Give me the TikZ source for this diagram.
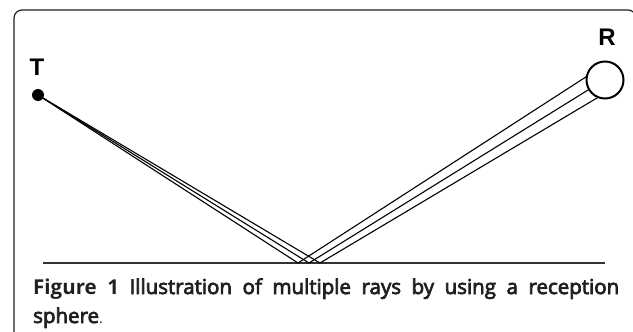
\documentclass[tikz,border=0pt]{standalone}
\usepackage{fontspec}
\setmainfont{Liberation Sans}
\newfontfamily\capfont{Open Sans}
\newfontfamily\capmed{Open Sans}[FakeBold=3.5]
\newfontfamily\lblfont{Liberation Sans}
\usetikzlibrary{calc,intersections}
\definecolor{ink}{HTML}{231F20}
\tikzset{
  ray/.style={draw=black, line width=1.1pt},
  lbl/.style={inner sep=0pt, font=\lblfont\fontsize{24}{24}\selectfont\bfseries},
  captxt/.style={inner sep=0pt, anchor=base west, text=ink, font=\capfont\fontsize{20.5}{24}\selectfont},
}
\begin{document}
\begin{tikzpicture}[x=1pt,y=-1pt]
\clip (0,0) rectangle (633,332);
\useasboundingbox (0,0) rectangle (633,332);
% frame
\draw[line width=1.2pt, draw=ink] (14,340) -- (14,18) arc[start angle=180,end angle=90,radius=8pt] -- (628,10) arc[start angle=90,end angle=0,radius=8pt] -- (636,340);
% ground
\coordinate (g1) at (43,263);
\coordinate (g2) at (605,263);
\draw[line width=1.5pt, draw=black!80] (g1) -- (g2);
% transmitter
\coordinate (T) at (38,95);
\coordinate (Tp) at (38,431);
\fill (T) circle[radius=6pt];
\node[lbl] (tl) at (37,67) {T};
% receiver
\coordinate (C) at (605,80);
\path[name path=circ] (C) circle[radius=18.5pt];
\node[lbl] (rl) at (607,37) {R};
% hit points
\coordinate (h1) at (298,263);
\coordinate (h2) at (309,263);
\coordinate (h3) at (320,263);
\path[name path=rayA] (Tp) -- ($(Tp)!2.4!(h1)$);
\path[name path=rayB] (Tp) -- ($(Tp)!2.4!(h2)$);
\path[name path=rayC] (Tp) -- ($(Tp)!2.4!(h3)$);
\path[name intersections={of=rayA and circ, sort by=rayA, by={e1}}];
\path[name intersections={of=rayB and circ, sort by=rayB, by={e2}}];
\path[name intersections={of=rayC and circ, sort by=rayC, by={e3}}];
\draw[ray] (T) -- (h1) -- (e1);
\draw[ray] (T) -- (h2) -- (e2);
\draw[ray] (T) -- (h3) -- (e3);
\draw[line width=2pt] (C) circle[radius=18.5pt];
% caption
\node[captxt] (cap1) at (33,294) {\makebox[586pt][s]{{\bfseries Figure 1} {\capmed Illustration of multiple rays by using a reception}}};
\node[captxt] (cap2) at (33,323) {{\capmed sphere}{\fontsize{14}{14}\selectfont.}};
\end{tikzpicture}
\end{document}
